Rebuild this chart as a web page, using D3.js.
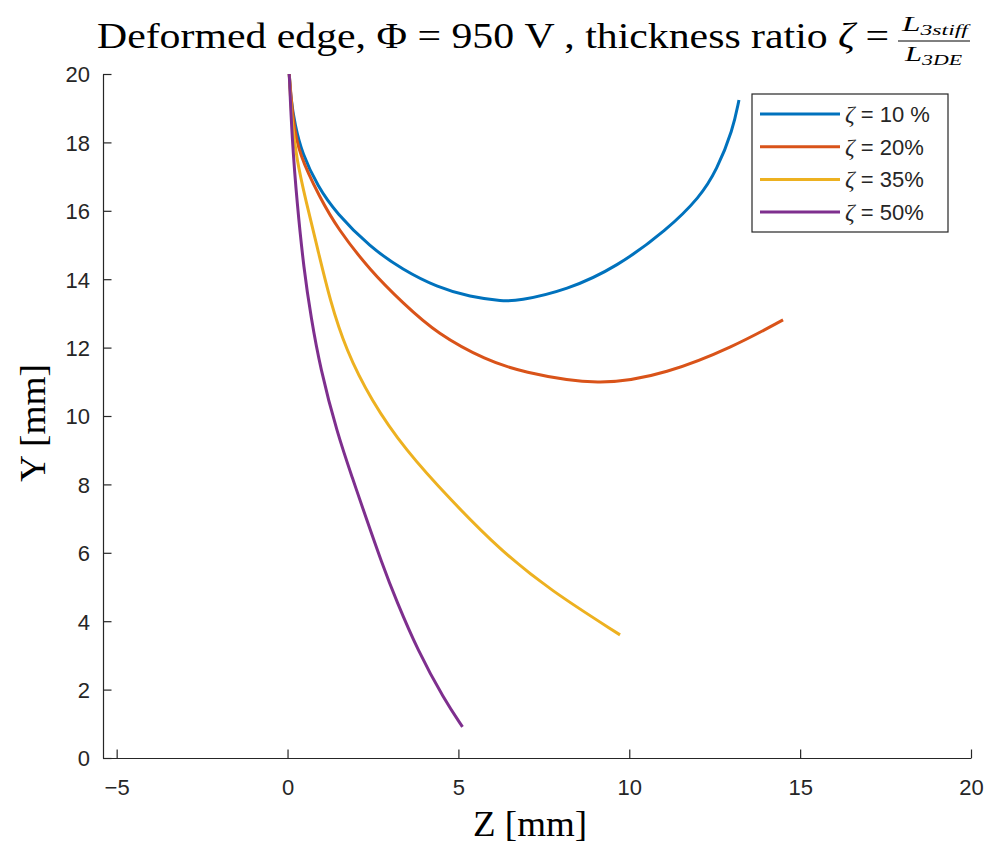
<!DOCTYPE html>
<html>
<head>
<meta charset="utf-8">
<script src="https://cdn.jsdelivr.net/npm/d3@7"></script>
<style>
  body { margin: 0; background: #fff; }
  svg { display: block; }
</style>
</head>
<body>
<div id="chart"></div>
<script>
// datos (Z, Y en mm)
const seriesNames = ["10 %", "20%", "35%", "50%"];
const seriesColors = ["#0072BD", "#D95319", "#EDB120", "#7E2F8E"];

const blueZ = [0.05, 0.10, 0.22, 0.42, 0.89, 1.42, 2.41, 3.38, 4.37, 5.34, 6.31, 6.72, 8.18, 9.64, 11.10, 12.07, 12.56, 13.03, 13.21];
const blueY = [20.0, 19.24, 18.51, 17.69, 16.70, 15.94, 14.94, 14.27, 13.77, 13.48, 13.36, 13.36, 13.68, 14.36, 15.44, 16.40, 17.19, 18.36, 19.24];

const orangeZ = [0.05, 0.16, 0.33, 0.95, 1.45, 2.42, 3.38, 4.38, 5.84, 6.80, 9.14, 11.11, 13.04, 14.50];
const orangeY = [20.0, 18.63, 17.66, 16.38, 15.5, 14.25, 13.30, 12.40, 11.62, 11.30, 10.86, 11.24, 12.02, 12.81];

const yellowZ = [0.05, 0.12, 0.27, 0.53, 0.89, 1.24, 1.71, 2.44, 3.44, 4.78, 6.22, 7.68, 9.73];
const yellowY = [20.0, 18.65, 17.49, 16.32, 14.85, 13.39, 11.93, 10.47, 9.01, 7.54, 6.08, 4.91, 3.60];

const purpleZ = [0.05, 0.13, 0.28, 0.48, 0.69, 0.95, 1.45, 1.95, 2.12, 2.80, 3.18, 3.80, 4.59, 5.12];
const purpleY = [20.0, 18.13, 16.2, 14.27, 12.87, 11.43, 9.50, 8.04, 7.54, 5.58, 4.62, 3.16, 1.70, 0.91];

const xTicks = [-5, 0, 5, 10, 15, 20];
const yTicks = [0, 2, 4, 6, 8, 10, 12, 14, 16, 18, 20];

const series = [
  { name: seriesNames[0], color: seriesColors[0], z: blueZ, y: blueY },
  { name: seriesNames[1], color: seriesColors[1], z: orangeZ, y: orangeY },
  { name: seriesNames[2], color: seriesColors[2], z: yellowZ, y: yellowY },
  { name: seriesNames[3], color: seriesColors[3], z: purpleZ, y: purpleY }
];

const W = 989, H = 844;
const axisColor = "#262626";
const sans = "'Liberation Sans', Arial, sans-serif";
const serif = "'Liberation Serif', 'Times New Roman', serif";

const svg = d3.select("#chart").append("svg")
    .attr("width", W)
    .attr("height", H);

const x = d3.scaleLinear().domain([-5.4, 20]).range([103, 971]);
const y = d3.scaleLinear().domain([0, 20]).range([758, 74]);

// ejes (solo izquierda y abajo, ticks hacia dentro)
const xAxis = svg.append("g")
    .attr("transform", `translate(0,${y(0)})`)
    .call(d3.axisBottom(x).tickValues(xTicks).tickSizeInner(-8.5).tickSizeOuter(0).tickPadding(21));
const yAxis = svg.append("g")
    .attr("transform", `translate(${x.range()[0]},0)`)
    .call(d3.axisLeft(y).tickValues(yTicks).tickSizeInner(-8.5).tickSizeOuter(0).tickPadding(22));

[xAxis, yAxis].forEach(g => {
  g.select(".domain").attr("stroke", axisColor).attr("stroke-width", 1.2);
  g.selectAll(".tick line").attr("stroke", axisColor).attr("stroke-width", 1.2);
  g.selectAll(".tick text")
      .attr("fill", axisColor)
      .style("font-family", sans)
      .style("font-size", "22px");
});
xAxis.selectAll(".tick text").attr("dy", "0.71em");
yAxis.selectAll(".tick text").attr("x", -13).attr("dy", "0.36em");

// curvas
const line = d3.line()
    .x(d => x(d[0]))
    .y(d => y(d[1]))
    .curve(d3.curveBasis);

svg.append("g").selectAll("path")
  .data(series)
  .join("path")
    .attr("fill", "none")
    .attr("stroke", d => d.color)
    .attr("stroke-width", 3)
    .attr("stroke-linejoin", "round")
    .attr("d", d => line(d.z.map((v, i) => [v, d.y[i]])));

// titulo
const title = svg.append("text")
    .attr("x", 97)
    .attr("y", 48)
    .attr("textLength", 792)
    .attr("lengthAdjust", "spacingAndGlyphs")
    .attr("fill", "#000")
    .style("font-family", serif)
    .style("font-size", "35px");
title.append("tspan").text("Deformed edge, \u03A6 = 950 V , thickness ratio ");
title.append("tspan").attr("font-style", "italic").text("\u03B6");
title.append("tspan").text(" =");

const fr = svg.append("g").attr("transform", "translate(898,0)");
const num = fr.append("text").attr("x", 4).attr("y", 31)
    .attr("textLength", 66).attr("lengthAdjust", "spacingAndGlyphs")
    .style("font-family", serif).style("font-size", "21px").style("font-style", "italic");
num.append("tspan").text("L");
num.append("tspan").attr("dy", 4).style("font-size", "15px").text("3stiff");
fr.append("line").attr("x1", 0).attr("x2", 72).attr("y1", 41).attr("y2", 41)
    .attr("stroke", "#000").attr("stroke-width", 1);
const den = fr.append("text").attr("x", 7).attr("y", 61)
    .attr("textLength", 57).attr("lengthAdjust", "spacingAndGlyphs")
    .style("font-family", serif).style("font-size", "21px").style("font-style", "italic");
den.append("tspan").text("L");
den.append("tspan").attr("dy", 4).style("font-size", "15px").text("3DE");

// etiquetas de ejes
svg.append("text")
    .attr("x", 530)
    .attr("y", 836)
    .attr("text-anchor", "middle")
    .attr("textLength", 114)
    .attr("lengthAdjust", "spacingAndGlyphs")
    .style("font-family", serif)
    .style("font-size", "35px")
    .text("Z [mm]");
svg.append("text")
    .attr("transform", "translate(45,423) rotate(-90)")
    .attr("text-anchor", "middle")
    .attr("textLength", 118)
    .attr("lengthAdjust", "spacingAndGlyphs")
    .style("font-family", serif)
    .style("font-size", "35px")
    .text("Y [mm]");

// leyenda
const leg = svg.append("g");
leg.append("rect")
    .attr("x", 752).attr("y", 94)
    .attr("width", 196).attr("height", 138)
    .attr("fill", "#fff")
    .attr("stroke", axisColor)
    .attr("stroke-width", 1.2);
const rows = leg.selectAll("g.row")
  .data(series)
  .join("g")
    .attr("class", "row")
    .attr("transform", (d, i) => `translate(0,${114 + i * 32.7})`);
rows.append("line")
    .attr("x1", 760).attr("x2", 840)
    .attr("stroke", d => d.color)
    .attr("stroke-width", 3);
const lt = rows.append("text")
    .attr("x", 845)
    .attr("dy", "0.36em")
    .attr("fill", axisColor)
    .style("font-family", sans)
    .style("font-size", "22px");
lt.append("tspan").style("font-family", serif).style("font-style", "italic").style("font-size", "24px").text("\u03B6");
lt.append("tspan").text(d => " = " + d.name);
</script>
</body>
</html>
